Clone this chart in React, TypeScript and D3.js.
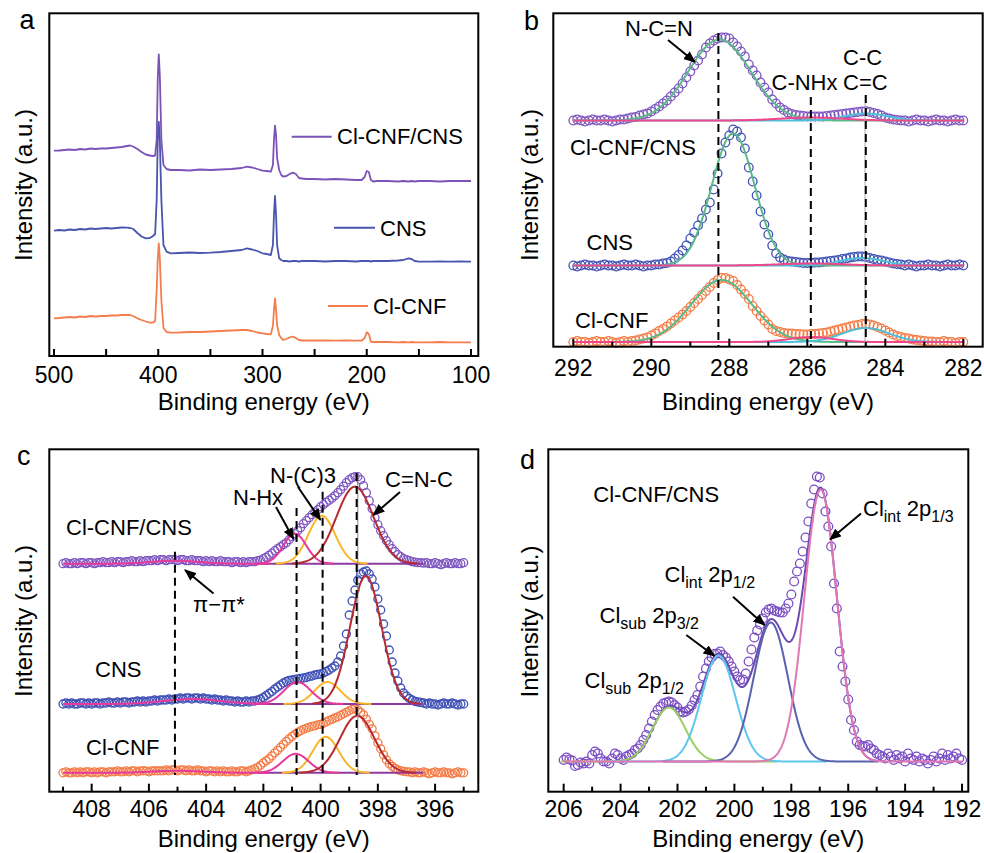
import React from "react";
import * as d3 from "d3";

const FONT = "'Liberation Sans', Arial, Helvetica, sans-serif";

// ---------------- Panel a: survey spectra ----------------
const surveyEnergy = [500,495,490,485,480,475,470,465,460,455,450,445,440,435,430,427,424,420,416,412,408,405,403,401.5,400.5,399.5,398.5,397,395,392,388,380,370,360,350,340,330,320,315,310,305,300,296,292,290,289,288,287,286,284,282,280,277,274,271,268,265,262,258,250,240,230,220,210,205,202,200,198,196,194,190,180,170,165,160,157,154,150,140,130,120,110,100];
const surveyClCNFCNS = [205.3,205.5,206,206.5,206,207,206.5,207.5,207,207.5,207.5,208,208.5,209,210,
  210.5,209.5,207,204,201.5,200.5,200,200.5,
  216,276,301.7,281,216,191,187,186,
  186,185.5,186.5,186,186.5,187,188,189.3,188.5,187,185.3,185,184.3,
  191,216,230.3,221,198,186,181,179.3,
  180,182,183.3,182,178,177.5,177,
  177,176.5,177,176.5,176,176,179,185,184,176,174.5,175,
  175,174.5,175,174.5,175,174.5,175,
  175,174.5,175,175,175];
const surveyCNS = [125.3,126,125.5,126.5,126,127,126.5,127.5,127,127.5,128,127.5,128,128.5,128.3,
  128,127,123,119.5,117.7,118,120,122,
  156,216,234,216,156,111,104.3,102.7,
  103,103.5,103,103.3,104,105,106,107.7,106.5,105,102.7,102,101,
  111,141,160,141,111,97.7,96,95,
  95,94.5,95,95,94.5,95,95,
  95,94.5,95,95,94.5,95,95,95,95,94.5,95,95,
  95,95.5,96,97.7,97,95,94.3,
  94.3,94.5,94.3,94.5,94.3];
const surveyClCNF = [37.7,38,38.5,39,38.5,39.5,39,40,39.5,40,40,40.5,40.5,41,41,
  41,40,37.7,36,34.5,33.3,33.5,35,
  66,96,112.7,98,56,28,24,23.3,
  23.5,24,24,24.5,25,25.5,26,26,25,23.5,22.7,22,21.7,
  30,46,57.7,46,31,21,18,16,
  17,18.5,19.3,18,16,15.5,15.5,
  15.5,15.5,15.3,15.5,15.3,15.3,18,23.7,22,14.3,14,14,
  14,13.7,14,13.7,14,13.7,13.7,
  13.7,14,13.7,13.7,13.7];
const surveyTickLabels = [500, 400, 300, 200, 100];
const surveyNames = ["Cl-CNF/CNS", "CNS", "Cl-CNF"];

// ---------------- Panel b: C 1s ----------------
const c1sStart = 292.0;
const c1sStep = 0.1;
const c1sClCNFCNS = [0,1,0,-1,0,1,0,0,1,0,-1,0,1,1,
  2,3,3.5,5,6,7,9,
  11.5,14,17,20,24,28,32,37,43,49,
  55,60,66,73,77,80,82,83,83,82,
  78,74,69,64,56,50,45,38,33,28,
  21,17,13,10.5,8,6.5,5.5,5,4.5,4,
  4,4,4,4,4.5,5,5.5,6,6.5,7,
  7.5,8,8.5,9,9.3,8.5,7.5,6.5,5,3,
  2,1,0.5,0,
  0,-1,0,1,0,0,-1,0,1,0,0,-1,0,1,0,0];
const c1sCNS = [0,-1,0,1,0,0,-1,0,1,0,0,-1,0,1,0,0,1,0,-1,0,0,1,1,2,
  2.5,4,7,10.5,15,20,27,
  33,40,47,56,63,76,92,112,123,130,
  136,134,128,117,98,84,70,54,41,31,
  20,12,8,6,4.5,4,3.5,3,2.5,2.5,
  2.5,3,3,3.5,4,4.5,5,5.5,6.5,7,
  8,8.5,9,9,8.5,7.5,6.5,5.5,5,4,
  3,2,1.5,1,
  0,1,0,-1,0,0,1,0,0,-1,0,1,0,0,1,0];
const c1sClCNF = [0,1,0,0,-1,0,1,0,0,1,0,-1,0,1,0,1,
  1.5,2.5,3.5,4.5,6.5,
  8.5,11,13,15.5,18.5,21.5,24.5,27.5,31,35,
  39,43,47,51,55,59,62,64,64,62.5,
  61,57,52.5,48,43,36,31,26,21.5,17.5,
  13,11,10,9,8.5,8.5,8,8,7.5,7.5,
  8,8,8.5,9,9.5,10.5,11.5,12.5,13.5,14.5,
  15.5,16.5,17,18,18.3,17.5,16.5,15,13.5,11.5,
  9.5,7.5,6,5,4,3.5,2.5,2,1.5,1,
  0.5,0.5,0,0,1,0,0,-1,0,0];
// fitted peaks: [N-C=N, C-C/C=C, C-NHx]
const c1sCenters = [[288.25, 284.5, 285.9], [287.9, 284.6, 285.9], [288.2, 284.5, 285.9]];
const c1sHeights = [[81, 7, 3], [132, 7.5, 2], [62, 14, 5]];
const c1sSigmas = [[0.8, 0.55, 0.8], [0.55, 0.55, 0.8], [0.78, 0.6, 0.55]];
const c1sRefLines = [288.28, 285.91, 284.5];

// ---------------- Panel c: N 1s ----------------
const n1sStart = 409.0;
const n1sStep = 0.1;
const n1sClCNFCNS = [0,1,0,0,1,0,1,1,0,1,1,0,1,1,2,1,1,2,1,2,2,1,2,2,3,2,2,3,2,3,
  3,3,4,3,4,4,3,4,4,4,3,4,4,3,3,4,3,3,3,2,3,
  2,3,2,2,3,2,2,2,1,2,2,1,2,1,2,2,2,3,
  3.5,5,6.5,8.5,10.5,13,15,17,19,21,
  24,27,30,33,36,40,43,46,49,51.5,
  54,57,59,61.5,63.5,65.5,68,71,74,77.5,
  81,84,86,87,87,84,78,71,63,55,
  46,39,33,28,23,19,15,12,9,7,
  5,4,3,2,1.5,1,1,0.5,
  1,0,0,1,0,-1,0,1,0,0,1,0,0,1];
const n1sCNS = [0,1,0,1,0,0,1,1,0,1,0,1,1,0,1,1,2,1,1,2,1,2,2,1,2,2,3,2,3,2,3,3,4,3,4,
  4,4,5,4,5,5,6,5,6,6,5,6,6,5,6,5,5,4,5,4,4,3,4,3,
  3,2,3,2,2,3,2,3,3,4,
  5,6.5,8.5,10.5,12.5,15,17,19,21,22.5,
  23.5,24,24.5,25,25.5,26,26.5,27.5,28,29,
  29.5,30,31,32.5,34,36,38,42,48,58,
  70,89,103,114,124,130,132,133,130,125,
  117,105,94,80,68,54,42,31,23,16,
  11,8,5.5,4,2.5,2,1.5,1,
  0,1,0,0,-1,0,1,0,0,1,0,-1,0,0];
const n1sClCNF = [0,1,0,0,1,0,1,0,1,1,0,1,0,1,1,0,1,1,1,2,1,1,2,1,2,2,1,2,2,2,1,2,2,2,2,
  2,3,2,3,3,2,3,3,2,3,2,2,3,2,2,1,2,2,1,2,
  1,2,1,1,2,1,1,2,2,1,2,3,
  4,5.5,7.5,10,12,14,17,20,22.5,25.5,
  28.5,31.5,34,36.5,38.5,40.5,42,43.5,44.5,45.5,
  46.5,47,48,48.5,49.5,51,52.5,53.5,55,56,
  57.5,59,60.5,62,63.5,64,63,60.5,58,53.5,
  48.5,44,37,30,24,18,13,9,6.5,4.5,
  3,2,1.5,1,
  1,0,1,0,0,1,0,-1,0,1,0,0,1,0,0,-1,0,1,0,0];
// fitted peaks: [pi-pi*, N-Hx, N-(C)3, C=N-C]
const n1sCenters = [[405.1, 400.9, 399.96, 398.8], [404.5, 400.81, 399.76, 398.42], [405.0, 400.87, 399.82, 398.72]];
const n1sHeights = [[3, 30, 48, 77], [5, 22, 22, 128], [2, 19, 36, 57]];
const n1sSigmas = [[0.8, 0.4, 0.47, 0.65], [1.0, 0.47, 0.45, 0.55], [0.9, 0.45, 0.45, 0.6]];
const n1sRefLines = [405.09, 400.84, 399.93, 398.74];

// ---------------- Panel d: Cl 2p ----------------
const cl2pStart = 206.0;
const cl2pStep = 0.1;
const cl2pClCNFCNS = [1.5,4,2,1,-4.5,-3.5,-1,-2,0,-2,
  6.5,10,8,3,0,0,-2,3,8,6.5,
  3,1.5,5,6.5,8,11.5,13,16.5,21.5,26.5,
  33,40,46.5,51.5,55,58,59,60,59,56.5,
  54,50,49,50,52,56,61.5,66.5,75,85,
  93,100,104,107.5,108,110,106.5,104,100,95,
  90,85,81.5,82,88,100,112,124,131,137,
  143,149,152,153,151,150,149,149,153,158,
  167,180,190,198,210,224,240,258,272,285,
  284,268,250,235,215,178,153,110,95,80,
  62,41.5,31.5,20,16.5,15.5,15,16.5,13,11.5,
  8,6.5,5,3,8,5,1.5,6.5,3,5,
  0,8,3,1.5,5,0,3,1.5,-2,1.5,
  5,0,3,8,1.5,6.5,3,5,8,3,
  1.5];
// fitted peaks: [Cl_sub 2p1/2, Cl_sub 2p3/2, Cl_int 2p1/2, Cl_int 2p1/3]
const cl2pCenters = [202.3, 200.56, 198.72, 196.97];
const cl2pHeights = [54, 106, 139, 272];
const cl2pSigmas = [0.58, 0.6, 0.6, 0.57];

// ---------------- helpers ----------------
type Pt = [number, number];
const lineGen = d3.line<Pt>().x((d) => d[0]).y((d) => d[1]);

function gauss(e: number, c: number, h: number, s: number) {
  return h * Math.exp(-((e - c) * (e - c)) / (2 * s * s));
}

function grid(start: number, step: number, vals: number[]): Pt[] {
  return vals.map((v, i) => [+(start - i * step).toFixed(3), v]);
}

function curvePath(xs: any, ys: any, base: number, lo: number, hi: number, f: (e: number) => number) {
  const n = Math.ceil(Math.abs(hi - lo) / 0.02);
  const pts: Pt[] = [];
  for (let i = 0; i <= n; i++) {
    const e = lo + ((hi - lo) * i) / n;
    pts.push([xs(e), ys(base + f(e))]);
  }
  return lineGen(pts) || "";
}

type Fr = { x0: number; x1: number; y0: number; y1: number };

function Axes(props: {
  f: Fr; xs: any; ticks: number[]; isMajor: (t: number) => boolean; labels: number[];
  labelY: number; titleY: number; yTitleX: number; yTitleY: number;
  letter: string; lx: number; ly: number; majorLen: number; minorLen: number;
}) {
  const { f, xs, ticks, isMajor, labels, labelY, titleY, yTitleX, yTitleY, letter, lx, ly, majorLen, minorLen } = props;
  return (
    <g>
      <rect x={f.x0} y={f.y0} width={f.x1 - f.x0} height={f.y1 - f.y0} fill="none" stroke="#000" strokeWidth={2} />
      {ticks.map((t) => (
        <line key={"t" + t} x1={xs(t)} x2={xs(t)} y1={f.y1} y2={f.y1 - (isMajor(t) ? majorLen : minorLen)} stroke="#000" strokeWidth={2} />
      ))}
      {labels.map((t) => (
        <text key={"l" + t} x={xs(t)} y={labelY} textAnchor="middle" fontSize={23}>{t}</text>
      ))}
      <text x={(f.x0 + f.x1) / 2} y={titleY} textAnchor="middle" fontSize={24}>Binding energy (eV)</text>
      <text transform={`translate(${yTitleX},${yTitleY}) rotate(-90)`} textAnchor="middle" fontSize={24}>Intensity (a.u.)</text>
      <text x={lx} y={ly} fontSize={27}>{letter}</text>
    </g>
  );
}

function Arrow({ x1, y1, x2, y2 }: { x1: number; y1: number; x2: number; y2: number }) {
  return <line x1={x1} y1={y1} x2={x2} y2={y2} stroke="#000" strokeWidth={2} markerEnd="url(#arr)" />;
}

function Circles({ pts, xs, ys, base, color, r }: { pts: Pt[]; xs: any; ys: any; base: number; color: string; r: number }) {
  return (
    <g fill="none" stroke={color} strokeWidth={1.3}>
      {pts.map((p, i) => (
        <circle key={i} cx={xs(p[0])} cy={ys(base + p[1])} r={r} />
      ))}
    </g>
  );
}

export default function App() {
  // ---- frames ----
  const FA: Fr = { x0: 49.3, x1: 478.3, y0: 13.3, y1: 356 };
  const FB: Fr = { x0: 553.3, x1: 982.7, y0: 13.3, y1: 346.7 };
  const FC: Fr = { x0: 49.3, x1: 478.3, y0: 449.3, y1: 791.7 };
  const FD: Fr = { x0: 548.3, x1: 968.3, y0: 449.3, y1: 791.7 };

  // ---- scales ----
  const aX = d3.scaleLinear().domain([504.5, 93]).range([FA.x0, FA.x1]);
  const aY = d3.scaleLinear().domain([0, 342.7]).range([FA.y1, FA.y0]);
  const bX = d3.scaleLinear().domain([292.513, 281.503]).range([FB.x0, FB.x1]);
  const bY = d3.scaleLinear().domain([0, 333.4]).range([FB.y1, FB.y0]);
  const cX = d3.scaleLinear().domain([409.48, 394.49]).range([FC.x0, FC.x1]);
  const cY = d3.scaleLinear().domain([0, 342.4]).range([FC.y1, FC.y0]);
  const dX = d3.scaleLinear().domain([206.54, 191.78]).range([FD.x0, FD.x1]);
  const dY = d3.scaleLinear().domain([0, 342.4]).range([FD.y1, FD.y0]);

  // ---- panel a ----
  const aColors = ["#7b52b8", "#4a55ad", "#f47d4d"];
  const aSeries = [surveyClCNFCNS, surveyCNS, surveyClCNF];
  const aPaths = aSeries.map((vals) =>
    lineGen(vals.map((v, i) => [aX(surveyEnergy[i]), aY(v)] as Pt)) || ""
  );
  const aLegend = [
    { lx1: 291.7, lx2: 331.7, ly: 136.7, tx: 337, ty: 144 },
    { lx1: 334, lx2: 375, ly: 227.7, tx: 380, ty: 235.5 },
    { lx1: 328, lx2: 368, ly: 306, tx: 373, ty: 314 },
  ];

  // ---- panel b ----
  const bBase = [226.2, 81.2, 4.7];
  const bCircleColors = ["#7d55c0", "#3f51b5", "#f47b45"];
  const bSeries = [c1sClCNFCNS, c1sCNS, c1sClCNF].map((v) => grid(c1sStart, c1sStep, v));
  const bFitColors = ["#5cb98a", "#4fc0d8", "#f0468c"];

  // ---- panel c ----
  const cBase = [228, 87.7, 18.9];
  const cCircleColors = ["#7d55c0", "#3f51b5", "#f47b45"];
  const cSeries = [n1sClCNFCNS, n1sCNS, n1sClCNF].map((v) => grid(n1sStart, n1sStep, v));
  const cFitColors = ["#e6399b", "#e6399b", "#f9b628", "#b72a2f"];

  // ---- panel d ----
  const dBase = 30.2;
  const dSeries = grid(cl2pStart, cl2pStep, cl2pClCNFCNS);
  const dFitColors = ["#9ccf62", "#5ec6ef", "#5a62b0", "#df78b4"];

  const range1 = (lo: number, hi: number, st: number) => d3.range(lo, hi + 0.001, st);

  return (
    <svg width={984} height={853} viewBox="0 0 984 853" fontFamily={FONT}
      style={{ position: "absolute", left: 0, top: 0, display: "block", background: "#fff" }}>
      <defs>
        <marker id="arr" viewBox="0 0 12 10" refX={11} refY={5} markerWidth={12} markerHeight={10}
          markerUnits="userSpaceOnUse" orient="auto">
          <path d="M0,0 L12,5 L0,10 z" fill="#000" />
        </marker>
      </defs>
      <rect x={0} y={0} width={984} height={853} fill="#fff" />

      {/* ================= Panel a ================= */}
      <g>
        {aPaths.map((d, i) => (
          <path key={i} d={d} fill="none" stroke={aColors[i]} strokeWidth={1.8} strokeLinejoin="round" />
        ))}
        {aLegend.map((l, i) => (
          <g key={i}>
            <line x1={l.lx1} x2={l.lx2} y1={l.ly} y2={l.ly} stroke={aColors[i]} strokeWidth={2} />
            <text x={l.tx} y={l.ty} fontSize={22}>{surveyNames[i]}</text>
          </g>
        ))}
        <Axes f={FA} xs={aX} ticks={range1(100, 500, 50)} isMajor={() => true} labels={surveyTickLabels}
          labelY={382.7} titleY={409.5} yTitleX={31.7} yTitleY={185} letter="a" lx={19.5} ly={28.5}
          majorLen={7} minorLen={7} />
      </g>

      {/* ================= Panel b ================= */}
      <g>
        {bSeries.map((pts, k) => (
          <Circles key={k} pts={pts} xs={bX} ys={bY} base={bBase[k]} color={bCircleColors[k]} r={4.3} />
        ))}
        {bSeries.map((_, k) => (
          <g key={"f" + k} fill="none" strokeWidth={2}>
            {[0, 1, 2].map((j) => (
              <path key={j} stroke={bFitColors[j]}
                d={curvePath(bX, bY, bBase[k], 292.0, 282.0, (e) => gauss(e, c1sCenters[k][j], c1sHeights[k][j], c1sSigmas[k][j]))} />
            ))}
          </g>
        ))}
        <line x1={bX(284.52)} x2={bX(284.52)} y1={95} y2={FB.y1} stroke="#aaa" strokeWidth={1} />
        {c1sRefLines.map((e, i) => (
          <line key={i} x1={bX(e)} x2={bX(e)} y1={[33, 97, 95][i]} y2={FB.y1} stroke="#000" strokeWidth={2} strokeDasharray="8,5" />
        ))}
        <text x={625} y={36} fontSize={22}>N-C=N</text>
        <Arrow x1={668} y1={40} x2={695} y2={62} />
        <text x={771.5} y={90} fontSize={22}>C-NHx</text>
        <text x={843} y={65} fontSize={22}>C-C</text>
        <text x={843} y={90} fontSize={22}>C=C</text>
        <text x={570} y={155} fontSize={22}>Cl-CNF/CNS</text>
        <text x={586.5} y={250} fontSize={22}>CNS</text>
        <text x={575} y={328} fontSize={22}>Cl-CNF</text>
        <Axes f={FB} xs={bX} ticks={range1(282, 292, 1)} isMajor={(t) => Math.round(t) % 2 === 0}
          labels={[292, 290, 288, 286, 284, 282]} labelY={376.3} titleY={409.5} yTitleX={538.3} yTitleY={185}
          letter="b" lx={524} ly={30} majorLen={8} minorLen={5} />
      </g>

      {/* ================= Panel c ================= */}
      <g>
        {cSeries.map((pts, k) => (
          <Circles key={k} pts={pts} xs={cX} ys={cY} base={cBase[k]} color={cCircleColors[k]} r={4} />
        ))}
        {cSeries.map((_, k) => (
          <g key={"f" + k} fill="none" strokeWidth={2}>
            <path stroke="#8e3aa0" d={curvePath(cX, cY, cBase[k], 402.2, 396.4, () => 0)} />
            <path stroke={cFitColors[0]}
              d={curvePath(cX, cY, cBase[k], 409.0, 401.8, (e) => gauss(e, n1sCenters[k][0], n1sHeights[k][0], n1sSigmas[k][0]))} />
            {[2, 1, 3].map((j) => {
              const c = n1sCenters[k][j], s = n1sSigmas[k][j];
              return (
                <path key={j} stroke={cFitColors[j]}
                  d={curvePath(cX, cY, cBase[k], c + 3.4 * s, c - 3.4 * s, (e) => gauss(e, c, n1sHeights[k][j], s))} />
              );
            })}
          </g>
        ))}
        <line x1={cX(398.7)} x2={cX(398.7)} y1={473} y2={775} stroke="#888" strokeWidth={1} />
        {n1sRefLines.map((e, i) => (
          <line key={i} x1={cX(e)} x2={cX(e)} y1={[551.7, 508, 491.7, 473][i]} y2={775} stroke="#000" strokeWidth={2} strokeDasharray="8,5" />
        ))}
        <text x={270} y={483} fontSize={22}>N-(C)3</text>
        <text x={233} y={505} fontSize={22}>N-Hx</text>
        <text x={385} y={486.7} fontSize={22}>C=N-C</text>
        <text x={66} y={535} fontSize={22}>Cl-CNF/CNS</text>
        <text x={193} y={611.7} fontSize={22}>π−π*</text>
        <text x={95} y={676.7} fontSize={22}>CNS</text>
        <text x={86} y={755} fontSize={22}>Cl-CNF</text>
        <Arrow x1={276} y1={507} x2={293.5} y2={539} />
        <Arrow x1={298} y1={487} x2={320.5} y2={520} />
        <Arrow x1={400} y1={492} x2={373.5} y2={515} />
        <Arrow x1={213.5} y1={593.5} x2={185} y2={570} />
        <Axes f={FC} xs={cX} ticks={range1(395, 409, 1)} isMajor={(t) => Math.round(t) % 2 === 0}
          labels={[408, 406, 404, 402, 400, 398, 396]} labelY={816.7} titleY={847} yTitleX={32.3} yTitleY={621}
          letter="c" lx={17} ly={465} majorLen={8} minorLen={5} />
      </g>

      {/* ================= Panel d ================= */}
      <g>
        <Circles pts={dSeries} xs={dX} ys={dY} base={dBase} color="#7b4dc4" r={4.4} />
        <path fill="none" stroke="#6b4bb3" strokeWidth={2}
          d={curvePath(dX, dY, dBase, 204.0, 195.0, (e) => cl2pCenters.reduce((acc, c, j) => acc + gauss(e, c, cl2pHeights[j], cl2pSigmas[j]), 0))} />
        {[0, 1, 2, 3].map((j) => (
          <path key={j} fill="none" stroke={dFitColors[j]} strokeWidth={2}
            d={curvePath(dX, dY, dBase, j === 3 ? 206.0 : cl2pCenters[j] + 3.8, j === 3 ? 192.0 : cl2pCenters[j] - 3.8,
              (e) => gauss(e, cl2pCenters[j], cl2pHeights[j], cl2pSigmas[j]))} />
        ))}
        <text x={593.3} y={501.7} fontSize={22}>Cl-CNF/CNS</text>
        <text x={863} y={515.5} fontSize={22}>Cl<tspan fontSize={16} dy={6}>int</tspan><tspan dy={-6}>{"\u00A02p"}</tspan><tspan fontSize={16} dy={6}>1/3</tspan></text>
        <text x={664.5} y={581.7} fontSize={22}>Cl<tspan fontSize={16} dy={6}>int</tspan><tspan dy={-6}>{"\u00A02p"}</tspan><tspan fontSize={16} dy={6}>1/2</tspan></text>
        <text x={599.5} y={623.3} fontSize={22}>Cl<tspan fontSize={16} dy={6}>sub</tspan><tspan dy={-6}>{"\u00A02p"}</tspan><tspan fontSize={16} dy={6}>3/2</tspan></text>
        <text x={584.5} y={688.3} fontSize={22}>Cl<tspan fontSize={16} dy={6}>sub</tspan><tspan dy={-6}>{"\u00A02p"}</tspan><tspan fontSize={16} dy={6}>1/2</tspan></text>
        <Arrow x1={861} y1={513.5} x2={830} y2={539.5} />
        <Arrow x1={733} y1={596.7} x2={764.5} y2={625} />
        <Arrow x1={686.3} y1={635} x2={714.5} y2={656} />
        <Axes f={FD} xs={dX} ticks={range1(192, 206, 1)} isMajor={(t) => Math.round(t) % 2 === 0}
          labels={[206, 204, 202, 200, 198, 196, 194, 192]} labelY={816.7} titleY={847} yTitleX={538.3} yTitleY={621.5}
          letter="d" lx={520} ly={468.5} majorLen={8} minorLen={5} />
      </g>
    </svg>
  );
}
